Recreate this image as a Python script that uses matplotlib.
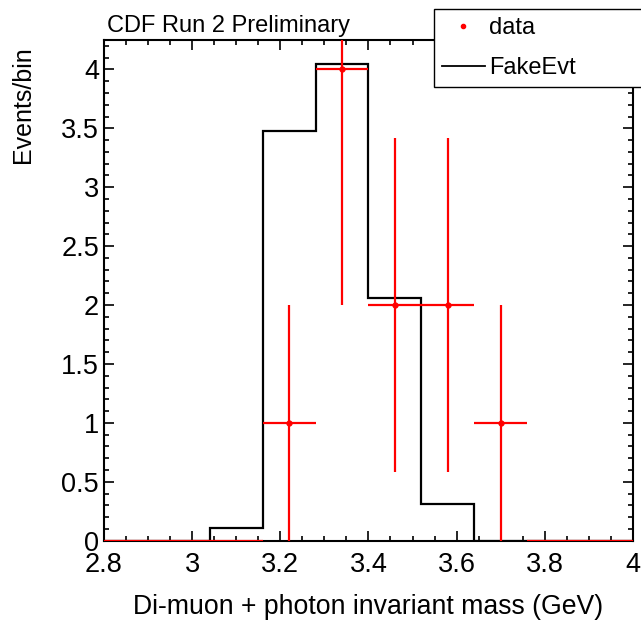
import numpy as np
import matplotlib.pyplot as plt
from matplotlib.lines import Line2D
from matplotlib.ticker import MultipleLocator

plt.rcParams['font.family'] = ['Liberation Sans', 'DejaVu Sans']

# binning: 10 bins of 0.12 GeV from 2.8 to 4.0
edges = np.round(np.linspace(2.8, 4.0, 11), 3)
centers = 0.5 * (edges[:-1] + edges[1:])

# data counts per bin
data = np.array([0, 0, 0, 1, 4, 2, 2, 1, 0, 0])
# FakeEvt expectation per bin
fake = np.array([0, 0, 0.11, 3.48, 4.05, 2.06, 0.31, 0, 0, 0])

fig = plt.figure(figsize=(6.41, 6.24), dpi=100)
ax = fig.add_axes([0.162, 0.1335, 0.8255, 0.8025])

ax.stairs(fake, edges, color='black', lw=1.6, baseline=0)
nz = data > 0
# empty bins: only the horizontal bin-width bar
ax.errorbar(centers[~nz], data[~nz], xerr=0.06, fmt='none',
            ecolor='red', elinewidth=1.6, capsize=0, zorder=3)
ax.errorbar(centers[nz], data[nz], xerr=0.06, yerr=np.sqrt(data[nz]), fmt='o',
            color='red', ms=3.5, elinewidth=1.6, capsize=0, zorder=3)

ax.set_xlim(2.8, 4.0)
ax.set_ylim(0, 4.25)
ax.xaxis.set_minor_locator(MultipleLocator(0.05))
ax.yaxis.set_minor_locator(MultipleLocator(0.1))
ax.set_xticks(np.arange(2.8, 4.01, 0.2))
ax.set_xticklabels(['2.8', '3', '3.2', '3.4', '3.6', '3.8', '4'])
ax.set_yticks(np.arange(0, 4.01, 0.5))
ax.set_yticklabels(['0', '0.5', '1', '1.5', '2', '2.5', '3', '3.5', '4'])
ax.tick_params(which='both', direction='in', top=True, right=True,
               labelsize=19.5, width=1.2)
ax.tick_params(which='major', length=7)
ax.tick_params(which='minor', length=3.5)
ax.tick_params(axis='x', pad=8)
for s in ax.spines.values():
    s.set_linewidth(1.5)

ax.set_xlabel('Di-muon + photon invariant mass (GeV)', fontsize=19.2, labelpad=12)
ax.set_ylabel('Events/bin', fontsize=18)
ax.yaxis.set_label_coords(-0.13, 0.87)

fig.text(0.167, 0.949, 'CDF Run 2 Preliminary', fontsize=17)

handles = [Line2D([], [], color='red', marker='o', ms=3, ls='none'),
           Line2D([], [], color='black', lw=1.3)]
leg = fig.legend(handles, ['data', 'FakeEvt'], loc='upper left',
                 bbox_to_anchor=(0.677, 0.9856, 0.343, 0), mode='expand',
                 fontsize=17, fancybox=False, framealpha=1,
                 borderaxespad=0, borderpad=0.35, handlelength=1.8,
                 handletextpad=0.2, labelspacing=0.75)
leg.get_frame().set_edgecolor('black')
leg.get_frame().set_linewidth(1.0)

fig.savefig('out.png', dpi=100)
